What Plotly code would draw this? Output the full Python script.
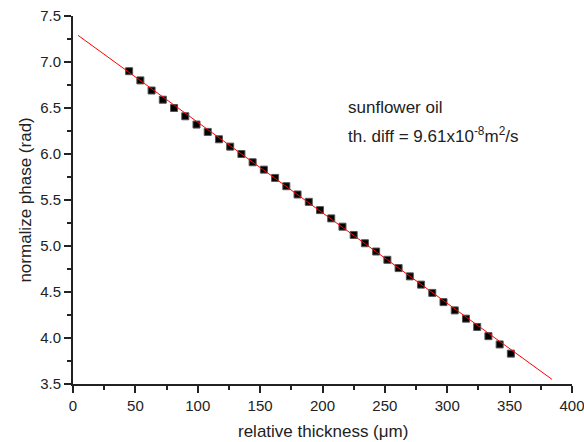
import plotly.graph_objects as go

# measured data (relative thickness in um, normalized phase in rad)
thickness = [45, 54, 63, 72, 81, 90, 99, 108, 117, 126, 135, 144, 153, 162, 171,
             180, 189, 198, 207, 216, 225, 234, 243, 252, 261, 270, 279, 288, 297,
             306, 315, 324, 333, 342, 351]
phase = [6.90, 6.80, 6.69, 6.59, 6.50, 6.41, 6.32, 6.24, 6.16, 6.08, 6.00, 5.91,
         5.83, 5.74, 5.65, 5.56, 5.48, 5.39, 5.30, 5.21, 5.12, 5.03, 4.94, 4.85,
         4.76, 4.67, 4.58, 4.49, 4.39, 4.30, 4.21, 4.12, 4.02, 3.93, 3.83]

# linear fit line endpoints
fit_x = [4, 384]
fit_y = [7.29, 3.55]

x_ticks = [0, 50, 100, 150, 200, 250, 300, 350, 400]
y_ticks = [3.5, 4.0, 4.5, 5.0, 5.5, 6.0, 6.5, 7.0, 7.5]

FONT = "Liberation Sans, Arial, sans-serif"
TXT = "#222222"

fig = go.Figure()
fig.add_trace(go.Scatter(
    x=thickness, y=phase, mode="markers",
    marker=dict(symbol="square", size=7, color="black",
                line=dict(color="#555555", width=1)),
    showlegend=False, cliponaxis=False))
fig.add_trace(go.Scatter(
    x=fit_x, y=fit_y, mode="lines",
    line=dict(color="red", width=1), showlegend=False))

axis_common = dict(
    showline=True, linecolor="#222222", linewidth=2,
    ticks="outside", ticklen=7, tickwidth=1.5, tickcolor="#222222",
    showgrid=False, zeroline=False, mirror=False,
    tickfont=dict(family=FONT, size=15, color=TXT),
    ticklabeloverflow="allow", automargin=False,
    minor=dict(ticks="outside", ticklen=4, tickwidth=1.5, tickcolor="#222222"),
)

fig.update_xaxes(range=[0, 400], tickvals=x_ticks,
                 ticktext=[str(v) for v in x_ticks],
                 minor_dtick=25, **axis_common)
fig.update_yaxes(range=[3.5, 7.5], tickvals=y_ticks,
                 ticktext=[f"{v:.1f}" for v in y_ticks],
                 minor_dtick=0.25, **axis_common)

fig.add_annotation(text="relative thickness (μm)", xref="paper", yref="paper",
                   x=0.5, y=-0.128, yanchor="middle", xanchor="center",
                   showarrow=False, font=dict(family=FONT, size=17, color=TXT))
fig.add_annotation(text="normalize phase (rad)", xref="paper", yref="paper",
                   x=-0.097, y=0.5, textangle=-90, xanchor="center", yanchor="middle",
                   showarrow=False, font=dict(family=FONT, size=17, color=TXT))
fig.add_annotation(text="sunflower oil", xref="paper", yref="paper",
                   x=0.548, y=0.752, xanchor="left", yanchor="middle", showarrow=False,
                   font=dict(family=FONT, size=17, color=TXT))
fig.add_annotation(text="th. diff = 9.61x10<sup>-8</sup>m<sup>2</sup>/s", xref="paper", yref="paper",
                   x=0.548, y=0.676, xanchor="left", yanchor="middle", showarrow=False,
                   font=dict(family=FONT, size=17, color=TXT))

fig.update_layout(
    width=584, height=442,
    margin=dict(l=73, r=12, t=16, b=58, autoexpand=False),
    paper_bgcolor="white", plot_bgcolor="white",
    font=dict(family=FONT, color=TXT),
)

fig.write_html("out.html")
